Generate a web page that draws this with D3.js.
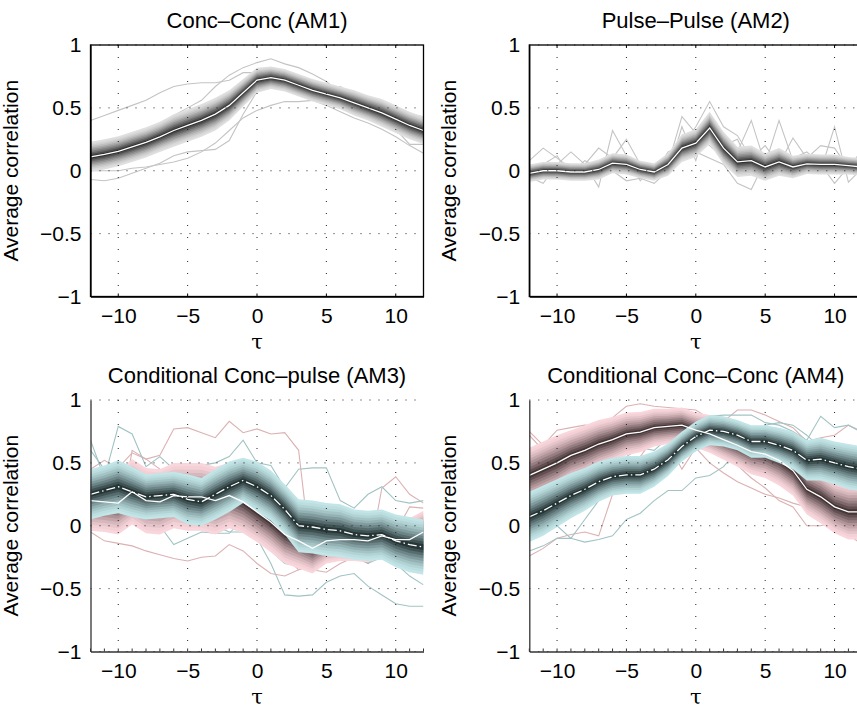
<!DOCTYPE html>
<html><head><meta charset="utf-8">
<script src="https://cdn.jsdelivr.net/npm/d3@7"></script>
<style>body{margin:0;background:#fff}svg{display:block}</style>
</head><body>
<svg id="chart" width="857" height="707"></svg>
<script>
const lags = d3.range(-12, 13);
const xTicks = [-10, -5, 0, 5, 10];
const yTicks = [-1, -0.5, 0, 0.5, 1];
const titles = ["Conc\u2013Conc (AM1)", "Pulse\u2013Pulse (AM2)", "Conditional Conc\u2013pulse (AM3)", "Conditional Conc\u2013Conc (AM4)"];
const yLabel = "Average correlation";
const xLabel = "\u03c4";

// AM1
const am1Mean = [0.11,0.13,0.155,0.19,0.225,0.27,0.32,0.36,0.40,0.45,0.52,0.62,0.72,0.74,0.72,0.68,0.64,0.61,0.58,0.54,0.50,0.46,0.41,0.36,0.32];
const am1Spread = [0.12,0.12,0.12,0.12,0.12,0.12,0.13,0.13,0.13,0.13,0.12,0.11,0.10,0.09,0.09,0.09,0.09,0.09,0.09,0.10,0.10,0.11,0.11,0.11,0.11];
const am1Ind1 = [0.40,0.44,0.48,0.52,0.56,0.62,0.67,0.69,0.70,0.70,0.72,0.78,0.78,0.76,0.68,0.62,0.60,0.56,0.52,0.47,0.42,0.38,0.33,0.28,0.22];
const am1Ind2 = [0.0,0.0,0.0,0.02,0.03,0.05,0.07,0.10,0.15,0.22,0.32,0.42,0.48,0.52,0.55,0.55,0.56,0.52,0.47,0.42,0.38,0.33,0.27,0.20,0.14];
const am1Ind3 = [-0.07,-0.08,-0.06,-0.02,0.02,0.06,0.12,0.15,0.16,0.17,0.24,0.45,0.63,0.70,0.70,0.66,0.63,0.60,0.67,0.60,0.52,0.43,0.33,0.21,0.21];
const am1Ind4 = [0.20,0.20,0.22,0.26,0.31,0.38,0.44,0.50,0.56,0.67,0.76,0.82,0.86,0.89,0.85,0.82,0.77,0.71,0.62,0.58,0.55,0.52,0.49,0.45,0.43];

// AM2
const am2Mean = [-0.02,0.0,0.0,-0.01,-0.01,0.01,0.06,0.05,0.01,-0.01,0.05,0.18,0.22,0.34,0.18,0.07,0.08,0.03,0.07,0.03,0.055,0.05,0.05,0.04,0.03];
const am2Spread = [0.07,0.07,0.07,0.07,0.07,0.08,0.08,0.08,0.07,0.07,0.09,0.11,0.11,0.13,0.13,0.12,0.12,0.11,0.11,0.09,0.08,0.08,0.08,0.07,0.07];
const am2Ind1 = [0.08,0.18,0.10,0.02,0.05,0.18,0.10,0.25,0.05,-0.02,0.15,0.20,0.35,0.55,0.35,0.28,0.10,0.20,0.05,0.26,0.10,0.20,0.18,0.02,0.17];
const am2Ind2 = [-0.05,-0.10,0.05,0.15,0.05,-0.13,0.32,0.12,-0.08,0.05,0.05,0.43,0.30,0.20,0.10,0.15,0.40,0.05,0.40,0.08,0.03,0.0,0.35,-0.09,0.02];
const am2Ind3 = [0.0,0.05,0.12,-0.05,0.0,0.05,0.0,-0.08,-0.06,-0.10,0.0,0.10,0.15,0.10,0.05,-0.10,-0.15,0.08,0.0,0.10,0.15,0.05,-0.10,0.03,0.0];
const am2Ind4 = [-0.08,-0.02,0.0,-0.02,0.08,0.03,0.05,0.02,0.0,0.0,-0.02,0.35,0.08,0.45,0.20,0.25,0.02,0.0,0.10,0.02,0.0,0.05,0.06,0.05,-0.02];

// AM3
const am3RedMean = [0.20,0.19,0.18,0.27,0.20,0.19,0.24,0.23,0.23,0.20,0.24,0.19,0.11,0.03,-0.07,-0.12,-0.18,-0.12,-0.11,-0.11,-0.12,-0.08,-0.11,-0.11,-0.05];
const am3RedSpread = [0.24,0.24,0.25,0.26,0.26,0.26,0.26,0.27,0.27,0.27,0.26,0.25,0.24,0.24,0.23,0.22,0.20,0.18,0.17,0.17,0.17,0.17,0.17,0.17,0.17];
const am3TealMean = [0.25,0.28,0.31,0.27,0.23,0.24,0.25,0.21,0.19,0.25,0.31,0.36,0.31,0.24,0.13,0.0,-0.01,-0.03,-0.04,-0.07,-0.08,-0.07,-0.12,-0.15,-0.17];
const am3TealSpread = [0.20,0.20,0.21,0.20,0.18,0.18,0.18,0.20,0.19,0.20,0.20,0.18,0.20,0.20,0.20,0.21,0.21,0.21,0.21,0.20,0.20,0.20,0.21,0.22,0.22];
const am3RedInd1 = [0.45,0.52,0.46,0.58,0.53,0.56,0.77,0.78,0.74,0.70,0.83,0.74,0.77,0.73,0.74,0.60,-0.35,-0.37,-0.30,-0.25,-0.30,0.30,0.39,0.25,0.18];
const am3RedInd2 = [-0.05,-0.12,-0.14,-0.16,-0.20,-0.23,-0.26,-0.28,-0.25,-0.24,-0.15,-0.20,-0.30,-0.38,-0.40,-0.35,-0.30,-0.25,-0.22,-0.20,-0.30,-0.20,-0.25,-0.30,-0.32];
const am3RedInd3 = [0.0,-0.02,-0.06,0.60,0.53,0.45,0.28,0.30,0.35,0.42,0.45,0.20,0.10,-0.05,-0.25,-0.35,-0.32,-0.20,-0.22,-0.20,-0.30,-0.10,-0.05,0.15,0.14];
const am3TealInd1 = [0.68,0.38,0.79,0.73,0.47,0.55,0.45,0.42,0.48,0.50,0.55,0.68,0.50,0.48,0.30,0.45,0.46,0.46,0.20,0.14,0.25,0.31,0.20,0.18,0.20];
const am3TealInd2 = [0.0,0.01,0.0,0.02,0.10,0.0,-0.15,-0.10,-0.05,-0.06,-0.06,0.05,-0.10,-0.30,-0.55,-0.56,-0.55,-0.45,-0.40,-0.38,-0.48,-0.55,-0.62,-0.64,-0.64];
const am3TealInd3 = [0.60,0.45,0.10,0.20,0.05,0.30,0.20,0.10,0.05,0.0,-0.05,-0.05,-0.10,-0.20,-0.30,-0.32,-0.20,-0.15,-0.10,-0.20,-0.30,-0.25,-0.30,-0.40,-0.47];

// AM4
const am4RedMean = [0.40,0.45,0.50,0.56,0.60,0.65,0.685,0.73,0.745,0.78,0.79,0.80,0.76,0.73,0.685,0.64,0.59,0.57,0.52,0.44,0.29,0.23,0.15,0.11,0.11];
const am4RedSpread = [0.22,0.22,0.22,0.20,0.20,0.19,0.18,0.17,0.16,0.15,0.14,0.14,0.14,0.15,0.16,0.17,0.18,0.19,0.20,0.20,0.20,0.21,0.21,0.22,0.22];
const am4TealMean = [0.07,0.12,0.18,0.24,0.29,0.35,0.39,0.405,0.405,0.45,0.525,0.63,0.71,0.76,0.75,0.72,0.67,0.67,0.64,0.60,0.52,0.53,0.50,0.47,0.45];
const am4TealSpread = [0.20,0.20,0.19,0.18,0.17,0.16,0.15,0.15,0.15,0.14,0.13,0.12,0.12,0.12,0.12,0.12,0.13,0.13,0.14,0.15,0.16,0.17,0.17,0.18,0.18];
const am4RedInd1 = [0.75,0.64,0.76,0.78,0.80,0.79,0.86,0.95,0.97,0.95,0.94,0.93,0.92,0.85,0.83,0.92,0.92,0.88,0.83,0.78,0.67,0.70,0.72,0.80,0.75];
const am4RedInd2 = [-0.24,-0.18,-0.10,-0.07,-0.05,-0.08,0.25,0.50,0.55,0.70,0.65,0.45,0.62,0.50,0.42,0.35,0.30,0.25,0.22,0.18,0.15,0.05,0.0,-0.07,-0.07];
const am4RedInd3 = [0.72,0.60,0.52,0.45,0.55,0.70,0.80,0.88,0.85,0.84,0.90,0.85,0.80,0.70,0.60,0.48,0.38,0.30,0.20,0.15,0.0,0.0,0.03,-0.07,-0.15];
const am4TealInd1 = [-0.20,-0.16,-0.10,-0.10,-0.13,-0.11,-0.08,0.05,0.10,0.20,0.28,0.28,0.38,0.40,0.47,0.60,0.70,0.80,0.82,0.80,0.72,0.62,0.55,0.50,0.47];
const am4TealInd2 = [0.15,0.10,0.0,-0.10,0.05,0.20,0.35,0.55,0.62,0.60,0.70,0.75,0.80,0.87,0.88,0.88,0.88,0.82,0.80,0.75,0.68,0.87,0.78,0.80,0.74];

const palettes = {
  grey: {outer: "#e0e0e0", inner: "#2e2e2e", line: "#c4c4c4"},
  red:  {outer: "#f9d6db", inner: "#453537", line: "#dcb1b3"},
  teal: {outer: "#c2e5e7", inner: "#263536", line: "#a2c3c3"}
};

const panels = [
  {x0: 90.5, y0: 45, title: titles[0], box: true,
   lines: [{d: am1Ind1, p: "grey"}, {d: am1Ind2, p: "grey"}, {d: am1Ind3, p: "grey"}, {d: am1Ind4, p: "grey"}],
   bands: [{mean: am1Mean, spread: am1Spread, p: "grey", dash: null}]},
  {x0: 529.3, y0: 45, title: titles[1], box: true,
   lines: [{d: am2Ind1, p: "grey"}, {d: am2Ind2, p: "grey"}, {d: am2Ind3, p: "grey"}, {d: am2Ind4, p: "grey"}],
   bands: [{mean: am2Mean, spread: am2Spread, p: "grey", dash: null}]},
  {x0: 90.5, y0: 400, title: titles[2], box: false,
   lines: [{d: am3RedInd1, p: "red"}, {d: am3RedInd2, p: "red"}, {d: am3RedInd3, p: "red"},
           {d: am3TealInd1, p: "teal"}, {d: am3TealInd2, p: "teal"}, {d: am3TealInd3, p: "teal"}],
   bands: [{mean: am3RedMean, spread: am3RedSpread, p: "red", dash: null},
           {mean: am3TealMean, spread: am3TealSpread, p: "teal", dash: "9,3,1.5,3"}]},
  {x0: 529.3, y0: 400, title: titles[3], box: false,
   lines: [{d: am4RedInd1, p: "red"}, {d: am4RedInd2, p: "red"}, {d: am4RedInd3, p: "red"},
           {d: am4TealInd1, p: "teal"}, {d: am4TealInd2, p: "teal"}],
   bands: [{mean: am4RedMean, spread: am4RedSpread, p: "red", dash: null},
           {mean: am4TealMean, spread: am4TealSpread, p: "teal", dash: "9,3,1.5,3"}]}
];

const W = 333, H = 251.5;
const svg = d3.select("#chart");
const font = "'Liberation Sans', Arial, Helvetica, sans-serif";
const NL = 10;
const tickFs = 21, titleFs = 22, labelFs = 21;

panels.forEach((P, pi) => {
  const x = d3.scaleLinear().domain([-12, 12]).range([P.x0, P.x0 + W]);
  const y = d3.scaleLinear().domain([-1, 1]).range([P.y0 + H, P.y0]);
  const g = svg.append("g");
  const clipId = "clip" + pi;
  g.append("clipPath").attr("id", clipId).append("rect")
    .attr("x", P.x0).attr("y", P.y0).attr("width", W).attr("height", H);
  const plot = g.append("g").attr("clip-path", `url(#${clipId})`);
  const line = d3.line().x((d, i) => x(lags[i])).y(d => y(d));

  P.lines.forEach(L => {
    plot.append("path").attr("d", line(L.d)).attr("fill", "none")
      .attr("stroke", palettes[L.p].line).attr("stroke-width", 1.1);
  });

  P.bands.forEach(B => {
    const pal = palettes[B.p];
    const col = d3.interpolateRgb(pal.outer, pal.inner);
    for (let k = NL; k >= 1; k--) {
      const f = k / NL;
      const area = d3.area().x((d, i) => x(lags[i]))
        .y0((d, i) => y(B.mean[i] - B.spread[i] * f))
        .y1((d, i) => y(B.mean[i] + B.spread[i] * f));
      plot.append("path").attr("d", area(B.mean))
        .attr("fill", col(Math.pow((NL - k) / (NL - 1), 1.5))).attr("stroke", "none");
    }
  });

  P.bands.forEach(B => {
    const p = plot.append("path").attr("d", line(B.mean)).attr("fill", "none")
      .attr("stroke", "#fff").attr("stroke-width", 1.3);
    if (B.dash) p.attr("stroke-dasharray", B.dash);
  });

  // grid
  xTicks.forEach(t => {
    g.append("line").attr("x1", x(t)).attr("x2", x(t)).attr("y1", P.y0).attr("y2", P.y0 + H)
      .attr("stroke", "#222").attr("stroke-width", 1).attr("stroke-dasharray", "1,11");
  });
  yTicks.forEach(t => {
    g.append("line").attr("x1", P.x0).attr("x2", P.x0 + W).attr("y1", y(t)).attr("y2", y(t))
      .attr("stroke", "#222").attr("stroke-width", 1).attr("stroke-dasharray", "1,8");
  });

  // axes
  const axCol = P.box ? "#000" : "#333";
  const fmt = d => d3.format("")(d).replace("-", "\u2212");
  const yAxis = d3.axisLeft(y).tickValues(yTicks).tickSize(0).tickPadding(9).tickFormat(fmt);
  const xAxis = d3.axisBottom(x).tickValues(xTicks).tickSize(0).tickPadding(11).tickFormat(fmt);
  const ya = g.append("g").attr("transform", `translate(${P.x0},0)`).call(yAxis);
  const xa = g.append("g").attr("transform", `translate(0,${P.y0 + H})`).call(xAxis);
  [ya, xa].forEach(a => {
    a.select(".domain").attr("stroke", axCol).attr("stroke-width", 1.3);
    a.selectAll("text").attr("font-family", font).attr("font-size", tickFs).attr("fill", "#000");
  });
  xa.selectAll("text").attr("dy", "0.72em");
  if (P.box) {
    g.append("rect").attr("x", P.x0).attr("y", P.y0).attr("width", W).attr("height", H)
      .attr("fill", "none").attr("stroke", "#000").attr("stroke-width", 1.3);
    xTicks.forEach(t => {
      g.append("line").attr("x1", x(t)).attr("x2", x(t)).attr("y1", P.y0 + H).attr("y2", P.y0 + H - 3).attr("stroke", "#000");
      g.append("line").attr("x1", x(t)).attr("x2", x(t)).attr("y1", P.y0).attr("y2", P.y0 + 3).attr("stroke", "#000");
    });
  } else {
    lags.forEach(t => {
      g.append("line").attr("x1", x(t)).attr("x2", x(t)).attr("y1", P.y0 + H).attr("y2", P.y0 + H - 3).attr("stroke", "#333");
    });
  }

  // labels
  g.append("text").attr("x", P.x0 + W / 2).attr("y", P.y0 - 17).attr("text-anchor", "middle")
    .attr("font-family", font).attr("font-size", titleFs).text(P.title);
  g.append("text").attr("x", x(0)).attr("y", P.y0 + H + 52).attr("text-anchor", "middle")
    .attr("font-family", "'DejaVu Serif', 'Liberation Serif', serif").attr("font-size", labelFs).text(xLabel);
  const lx = P.x0 - 73;
  const ly = P.y0 + H / 2;
  g.append("text").attr("transform", `translate(${lx},${ly}) rotate(-90)`).attr("text-anchor", "middle")
    .attr("font-family", font).attr("font-size", labelFs).text(yLabel);
});
</script>
</body></html>
